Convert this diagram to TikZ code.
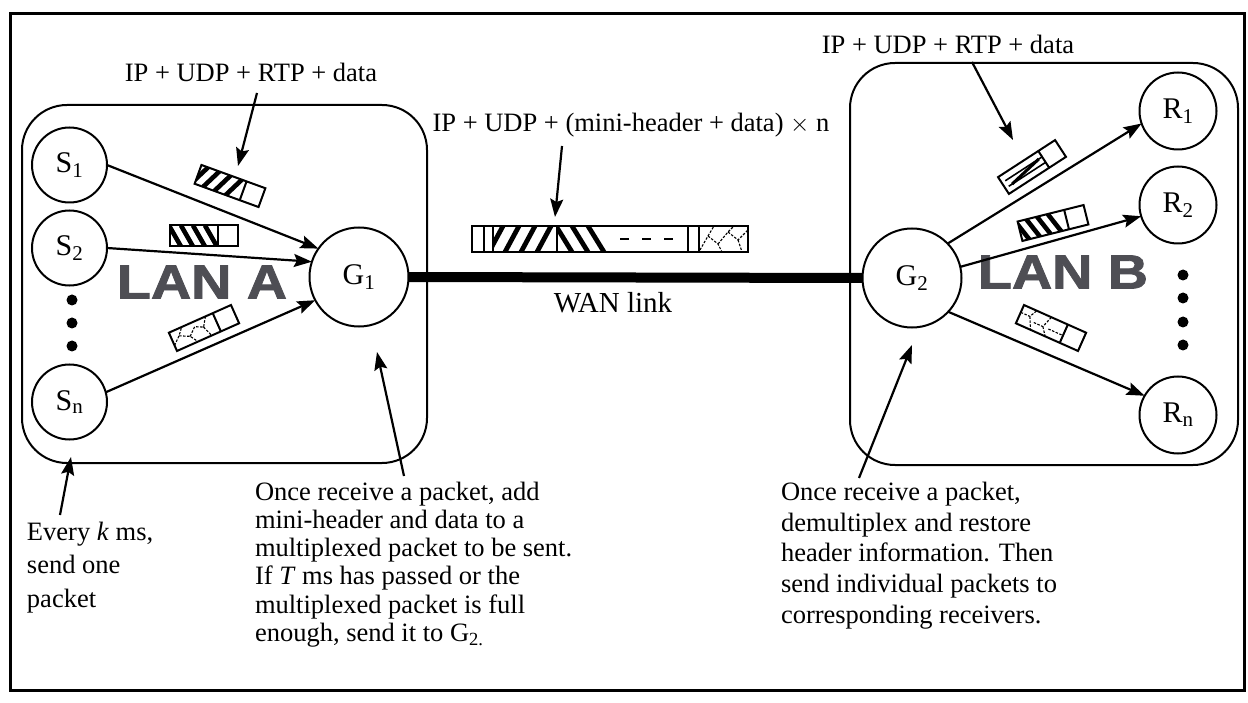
\documentclass[tikz,border=0pt]{standalone}
\usepackage{fontspec}
\setmainfont{Liberation Serif}
\newfontfamily\lanfont[BoldFeatures={FakeBold=1.6}]{Liberation Sans}
\usetikzlibrary{arrows.meta}
\definecolor{langray}{RGB}{78,78,84}
\begin{document}
\begin{tikzpicture}[x=1pt,y=-1pt,
  every node/.style={inner sep=0pt, outer sep=0pt},
  lbl/.style={font=\fontsize{26.5}{28}\selectfont},
  station/.style={circle, draw, line width=2pt, minimum size=75pt, font=\fontsize{30}{30}\selectfont},
  gateway/.style={circle, draw, line width=2pt, minimum size=99pt, font=\fontsize{30}{30}\selectfont},
  lanbox/.style={draw, line width=2pt, rounded corners=45pt},
  arr/.style={line width=2.2pt, -{Stealth[length=18pt,width=13pt,inset=3pt]}},
  lan/.style={text=langray, font=\lanfont\bfseries\fontsize{48}{48}\selectfont},
  pkline/.style={draw, line width=2pt},
  stripe/.style={line width=4.6pt},
  hatchthin/.style={line width=1.1pt, dash pattern=on 2.5pt off 1.5pt},
  axisline/.style={line width=1.6pt},
]
\useasboundingbox (0,0) rectangle (1248,703);

% outer frame
\draw[line width=3pt] (10,14) rectangle (1244,690);

% LAN boxes
\draw[lanbox] (22,105) rectangle (427,463);
\draw[lanbox] (850,63) rectangle (1238,465);

% LAN labels
\node[lan] (lanA) at (202,282) {\scalebox{1.16}[1]{LAN A}};
\node[lan] (lanB) at (1063,272) {\scalebox{1.16}[1]{LAN B}};

% nodes
\node[station] (S1) at (69.5,165) {S\textsubscript{1}};
\node[station] (S2) at (69.5,248) {S\textsubscript{2}};
\node[station] (Sn) at (69.5,402) {S\textsubscript{n}};
\node[gateway] (G1) at (359,277) {G\textsubscript{1}};
\node[gateway] (G2) at (912,278) {G\textsubscript{2}};
\node[station, minimum size=77pt] (R1) at (1178,111) {R\textsubscript{1}};
\node[station, minimum size=77pt] (R2) at (1178,205) {R\textsubscript{2}};
\node[station, minimum size=77pt] (Rn) at (1178,415) {R\textsubscript{n}};

% dots
\foreach \yy in {300,323,346} \fill (72,\yy) circle (5.5);
\foreach \yy in {275,298,322,345} \fill (1183,\yy) circle (5.5);

% WAN link
\draw[line width=10pt] (G1.east) -- (G2.west);
\node[font=\fontsize{29}{29}\selectfont, anchor=base] (wan) at (613,313) {WAN link};

% connectors
\draw[arr] (S1.east) -- (G1.145);
\draw[arr] (S2.east) -- (G1.162);
\draw[arr] (Sn.15) -- (G1.208);
\draw[arr] (G2.44) -- (R1.199);
\draw[arr] (G2.13) -- (R2.197);
\draw[arr] (G2.-43) -- (Rn.150);

% packet labels
\node[lbl, anchor=base] (lblA) at (251,82) {IP + UDP + RTP + data};
\node[lbl, anchor=base] (lblB) at (948,54) {IP + UDP + RTP + data};
\node[lbl, anchor=base] (lblM) at (631,132) {IP + UDP + (mini-header + data) $\times$ n};
\coordinate (a1s) at (257,93);  \coordinate (a1t) at (238,166);
\coordinate (a2s) at (972,62);  \coordinate (a2t) at (1013,140);
\coordinate (a3s) at (562,146); \coordinate (a3t) at (555,217);
\draw[arr] (a1s) -- (a1t);
\draw[arr] (a2s) -- (a2t);
\draw[arr] (a3s) -- (a3t);

% packet 1 (S1)
\begin{scope}[shift={(230,186)}, rotate=-20]
  \fill[white] (-34,-10) rectangle (34,10);
  \begin{scope}\clip (-34,-10) rectangle (14,10);
    \foreach \s in {-37,-25,-13,-1} \draw[stripe] (\s,10) -- (\s+10,-10);
  \end{scope}
  \draw[pkline] (-34,-10) rectangle (34,10) (14,-10) -- (14,10);
\end{scope}
% packet 2 (S2)
\begin{scope}[shift={(204,236)}]
  \fill[white] (-34,-10.5) rectangle (34,10.5);
  \begin{scope}\clip (-34,-10.5) rectangle (14,10.5);
    \foreach \s in {-35,-23,-11,1} \draw[stripe] (\s,-10.5) -- (\s+12,10.5);
  \end{scope}
  \draw[pkline] (-34,-10.5) rectangle (34,10.5) (14,-10.5) -- (14,10.5);
\end{scope}
% packet 3 (Sn)
\begin{scope}[shift={(204,328)}, rotate=24]
  \fill[white] (-34,-10) rectangle (34,10);
  \draw[hatchthin] (-34,4) -- (-26,-3) -- (-20,-10) (-26,-3) -- (-16,2) -- (-11,10)
     (-16,2) -- (-8,-5) -- (0,-1) -- (6,-10) (0,-1) -- (4,10);
  \draw[pkline] (-34,-10) rectangle (34,10) (14,-10) -- (14,10);
\end{scope}
% packet R1
\begin{scope}[shift={(1032,167)}, rotate=33]
  \fill[white] (-34,-10) rectangle (34,10);
  \draw[axisline] (-30,-3) -- (14,-3) (-30,3.5) -- (14,3.5);
  \draw[line width=3pt] (-26,3.5) -- (10,-3);
  \draw[pkline] (-34,-10) rectangle (34,10) (14,-10) -- (14,10);
\end{scope}
% packet R2
\begin{scope}[shift={(1053,223)}, rotate=14]
  \fill[white] (-34,-10) rectangle (34,10);
  \begin{scope}\clip (-34,-10) rectangle (14,10);
    \foreach \s in {-36,-25,-14,-3} \draw[stripe] (\s,-10) -- (\s+9,10);
  \end{scope}
  \draw[pkline] (-34,-10) rectangle (34,10) (14,-10) -- (14,10);
\end{scope}
% packet Rn
\begin{scope}[shift={(1051,328)}, rotate=-24]
  \fill[white] (-34,-10) rectangle (34,10);
  \draw[hatchthin] (-34,-2) -- (-24,-2) -- (-20,-10) (-24,-2) -- (-18,10)
     (-18,2) -- (-8,2) -- (-4,-10) (-8,2) -- (-2,10) (-2,2) -- (14,2);
  \draw[pkline] (-34,-10) rectangle (34,10) (14,-10) -- (14,10);
\end{scope}

% multiplexed packet
\fill[white] (472,226) rectangle (748,252);
\begin{scope}\clip (493,226) rectangle (557,252);
  \foreach \s in {489,505,521,537} \draw[line width=4.8pt] (\s,252) -- (\s+14,226);
\end{scope}
\begin{scope}\clip (557,226) rectangle (612,252);
  \foreach \s in {556,572,588} \draw[line width=4.8pt] (\s,226) -- (\s+16,252);
\end{scope}
\draw[line width=2.5pt] (620,239) -- (629,239) (642,239) -- (651,239) (664,239) -- (673,239);
\draw[hatchthin] (700,250) -- (708,236) -- (714,226) (708,236) -- (718,244) -- (722,252)
   (718,244) -- (728,232) -- (734,226) (728,232) -- (738,240) -- (748,230) (738,240) -- (742,252);
\draw[pkline] (472,226) rectangle (748,252)
   (484,226) -- (484,252) (493,226) -- (493,252) (557,226) -- (557,252)
   (688,226) -- (688,252) (699,226) -- (699,252);

% explanatory texts
\node[anchor=north west, align=left, font=\fontsize{26.5}{33.5}\selectfont] (everyk) at (27,522)
  {Every \textit{k} ms,\\send one\\packet};
\node[anchor=north west, align=left, font=\fontsize{26.5}{28.2}\selectfont] (g1note) at (255,482)
  {Once receive a packet, add\\mini-header and data to a\\multiplexed packet to be sent.\\If \textit{T} ms has passed or the\\multiplexed packet is full\\enough, send it to G\textsubscript{2.}};
\node[anchor=north west, align=left, font=\fontsize{26.5}{30.7}\selectfont] (g2note) at (781,482)
  {Once receive a packet,\\demultiplex and restore\\header information. Then\\send individual packets to\\corresponding receivers.};

% pointer arrows
\coordinate (p1s) at (60,515);  \coordinate (p1t) at (71,457);
\coordinate (p2s) at (404,476); \coordinate (p2t) at (377,352);
\coordinate (p3s) at (859,478); \coordinate (p3t) at (912,345);
\draw[arr] (p1s) -- (p1t);
\draw[arr] (p2s) -- (p2t);
\draw[arr] (p3s) -- (p3t);
\end{tikzpicture}
\end{document}
